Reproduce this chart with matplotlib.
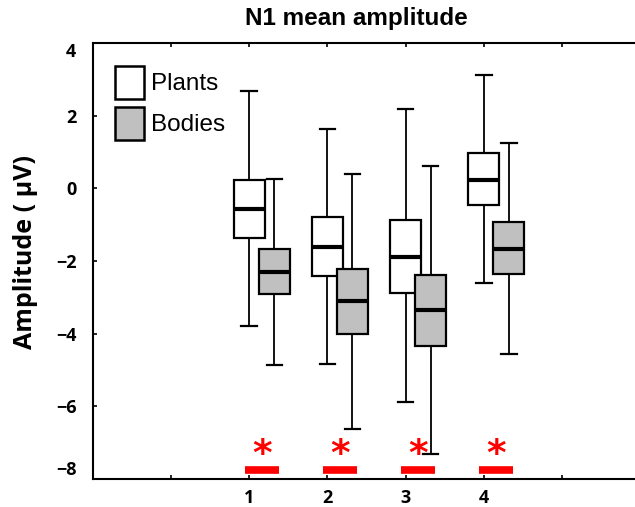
import numpy as np
import matplotlib
matplotlib.use("Agg")
import matplotlib.pyplot as plt
from matplotlib.patches import Patch

# data
groups = [1, 2, 3, 4]
x_ticks = [0, 1, 2, 3, 4, 5]
x_labels = ["", "1", "2", "3", "4", ""]
y_ticks = [-8, -6, -4, -2, 0, 2, 4]

plants_whislo = [-3.80, -4.83, -5.89, -2.60]
plants_q1 = [-1.38, -2.40, -2.88, -0.47]
plants_med = [-0.56, -1.62, -1.90, 0.23]
plants_q3 = [0.23, -0.78, -0.87, 0.97]
plants_whishi = [2.68, 1.63, 2.18, 3.12]

bodies_whislo = [-4.86, -6.62, -7.31, -4.55]
bodies_q1 = [-2.92, -4.00, -4.35, -2.37]
bodies_med = [-2.31, -3.11, -3.34, -1.66]
bodies_q3 = [-1.66, -2.23, -2.38, -0.92]
bodies_whishi = [0.25, 0.39, 0.62, 1.24]

sig_groups = [1, 2, 3, 4]
sig_bar_y = -7.75
sig_star_y = -7.35


def make_stats(lo, q1, med, q3, hi):
    return [dict(whislo=a, q1=b, med=c, q3=d, whishi=e, fliers=[])
            for a, b, c, d, e in zip(lo, q1, med, q3, hi)]


fig = plt.figure(figsize=(6.35, 5.07), dpi=100)
ax = fig.add_axes([0.1465, 0.0552, 0.8614, 0.860])

offset = 0.32
width = 0.4

def draw(stats, pos, face):
    ax.bxp(stats, positions=pos, widths=width, patch_artist=True,
           showfliers=False, manage_ticks=False,
           boxprops=dict(facecolor=face, edgecolor="black", linewidth=1.6),
           medianprops=dict(color="black", linewidth=3),
           whiskerprops=dict(color="black", linewidth=1.3),
           capprops=dict(color="black", linewidth=1.6),
           capwidths=0.2)

draw(make_stats(plants_whislo, plants_q1, plants_med, plants_q3, plants_whishi),
     [g for g in groups], "white")
draw(make_stats(bodies_whislo, bodies_q1, bodies_med, bodies_q3, bodies_whishi),
     [g + offset for g in groups], "#c0c0c0")

# significance markers
for g in sig_groups:
    ax.hlines(sig_bar_y, g - 0.06, g + 0.38, color="#ff0000", linewidth=5.5)
    ax.text(g + 0.16, sig_star_y, "*", color="#ff0000", fontsize=27,
            fontweight="bold", ha="center", va="center")

ax.set_xlim(-1, 6)
ax.set_ylim(-8, 4)
ax.set_xticks(x_ticks)
ax.set_xticklabels(x_labels, fontsize=13, fontweight="bold", family="Open Sans")
ax.set_yticks(y_ticks)
ax.set_yticklabels([str(v).replace("-", "\u2212") for v in y_ticks],
                   fontsize=13, fontweight="bold", family="Open Sans")
ax.tick_params(direction="in", length=3, width=1.2, top=True, right=False,
               pad=12)
ax.tick_params(axis="x", pad=7)
labs = ax.get_yticklabels()
labs[0].set_va("bottom")
labs[-1].set_va("top")
for s in ["left", "bottom", "top"]:
    ax.spines[s].set_linewidth(1.5)
ax.spines["right"].set_visible(False)

ax.set_ylabel("Amplitude ( \u00b5V)", fontsize=18, fontweight="bold",
              family="Open Sans")
ax.yaxis.set_label_coords(-0.1, 0.52)
fig.text(356 / 635, 1 - 18 / 507, "N1 mean amplitude", fontsize=17.5,
         fontweight="bold", family="Liberation Sans", ha="center", va="center")

handles = [Patch(facecolor="white", edgecolor="black", linewidth=1.8, label="Plants"),
           Patch(facecolor="#c0c0c0", edgecolor="black", linewidth=1.8, label="Bodies")]
ax.legend(handles=handles, loc="upper left", bbox_to_anchor=(0.04, 0.948),
          frameon=False, prop=dict(family="Liberation Sans", size=17.5),
          handlelength=1.2, handleheight=1.75, handletextpad=0.3,
          labelspacing=0.3, borderpad=0, borderaxespad=0)

fig.savefig("out.png", dpi=100)
